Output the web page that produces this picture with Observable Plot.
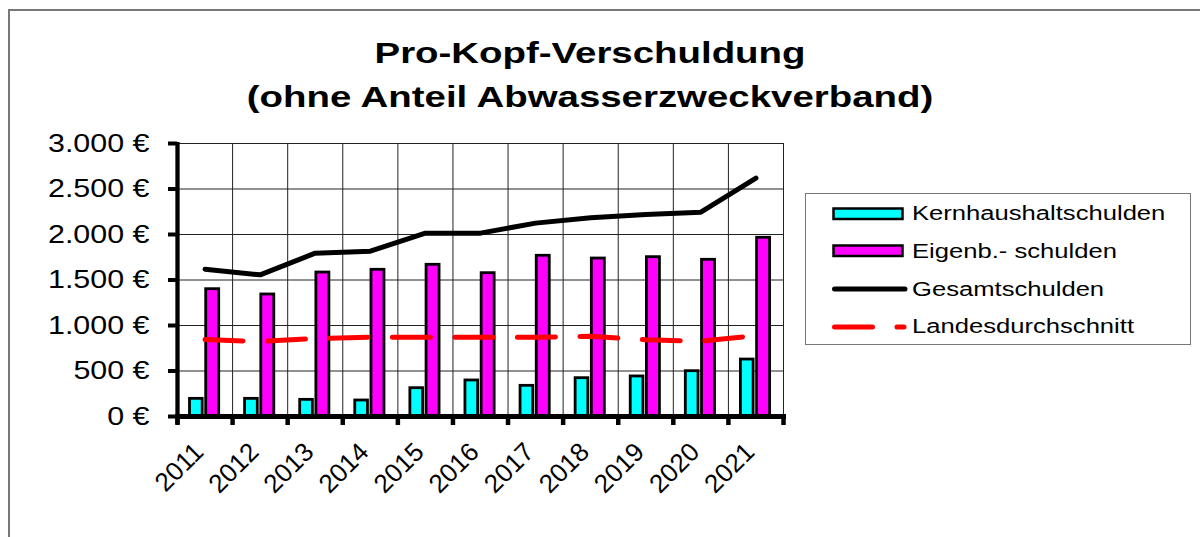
<!DOCTYPE html>
<html>
<head>
<meta charset="utf-8">
<script src="https://cdn.jsdelivr.net/npm/d3@7"></script>
<script src="https://cdn.jsdelivr.net/npm/@observablehq/plot@0.6"></script>
<style>
  html, body { margin: 0; padding: 0; background: #fff; overflow: hidden; }
  #wrap { position: relative; width: 1200px; height: 537px; overflow: hidden; font-family: "Liberation Sans", Arial, sans-serif; }
  #frame { position: absolute; left: 8px; top: 9px; width: 1300px; height: 700px; border: 2px solid #777; box-sizing: border-box; }
  .title { position: absolute; left: 0; width: 1180px; text-align: center; font-weight: bold; font-size: 30px; line-height: 30px; color: #000; transform: scaleX(1.28); transform-origin: 590px 0; white-space: nowrap; }
  #chart { position: absolute; left: 0; top: 125px; }
  #legend { position: absolute; left: 805px; top: 193px; width: 386px; height: 152px; border: 1.5px solid #777; box-sizing: border-box; background: #fff; }
  .lg-sw { position: absolute; left: 26px; }
  .lg-tx { position: absolute; left: 106px; font-size: 20px; line-height: 20px; white-space: nowrap; transform: scaleX(1.28); transform-origin: 0 0; color: #000; }
</style>
</head>
<body>
<div id="wrap">
  <div id="frame"></div>
  <div class="title" id="t1" style="top:38px"></div>
  <div class="title" id="t2" style="top:82px"></div>
  <div id="chart"></div>
  <div id="legend"></div>
</div>
<script>
// ---- data ----
const titleLines = ["Pro-Kopf-Verschuldung", "(ohne Anteil Abwasserzweckverband)"];
const years = ["2011","2012","2013","2014","2015","2016","2017","2018","2019","2020","2021"];
const kernhaushalt = [194, 194, 183, 176, 311, 396, 337, 421, 440, 498, 626];
const eigenbetriebe = [1399, 1341, 1582, 1612, 1667, 1575, 1766, 1736, 1751, 1722, 1964];
const gesamt = [1619, 1557, 1795, 1817, 2015, 2015, 2125, 2183, 2220, 2245, 2619];
const landesdurchschnitt = [845, 824, 857, 871, 871, 871, 871, 882, 843, 827, 890];
const yTicks = [0, 500, 1000, 1500, 2000, 2500, 3000];
const seriesNames = ["Kernhaushaltschulden", "Eigenb.- schulden", "Gesamtschulden", "Landesdurchschnitt"];
const seriesColors = ["#00FFFF", "#FF00FF", "#000000", "#FF0000"];

// ---- build ----
document.getElementById("t1").textContent = titleLines[0];
document.getElementById("t2").textContent = titleLines[1];

const rows = years.map((year, i) => ({
  i, year,
  kern: kernhaushalt[i], eigen: eigenbetriebe[i], gesamt: gesamt[i], landes: landesdurchschnitt[i]
}));
const bounds = d3.range(years.length + 1);

const W = 1200, H = 412, mL = 177, mR = 417, mT = 18, mB = 121;
const bw = (W - mL - mR) / years.length;

const de = d3.formatLocale({decimal: ",", thousands: ".", grouping: [3], currency: ["", " €"]});
const fmtEuro = de.format("$,.0f");
const FONT = "'Liberation Sans', Arial, sans-serif";

const plot = Plot.plot({
  width: W, height: H,
  marginLeft: mL, marginRight: mR, marginTop: mT, marginBottom: mB,
  style: {fontFamily: FONT, fontSize: "26px", background: "transparent", overflow: "visible", color: "#000"},
  x: {type: "linear", domain: [0, years.length], axis: null},
  y: {domain: [0, 3000], axis: null},
  marks: [
    Plot.ruleY(yTicks, {y: d => d, stroke: "#222", strokeWidth: 1}),
    Plot.ruleX(bounds, {x: d => d, stroke: "#222", strokeWidth: 1}),
    Plot.rectY(rows, {x1: d => d.i, x2: d => d.i + 1, y: "kern", fill: seriesColors[0], stroke: "#000", strokeWidth: 2.8,
      insetLeft: 12.5, insetRight: bw - 25.2}),
    Plot.rectY(rows, {x1: d => d.i, x2: d => d.i + 1, y: "eigen", fill: seriesColors[1], stroke: "#000", strokeWidth: 2.8,
      insetLeft: 28.7, insetRight: bw - 41.7}),
    Plot.line(rows, {x: d => d.i + 0.5, y: "gesamt", stroke: seriesColors[2], strokeWidth: 5, strokeLinejoin: "round", strokeLinecap: "round"}),
    Plot.line(rows, {x: d => d.i + 0.5, y: "landes", stroke: seriesColors[3], strokeWidth: 5, strokeLinecap: "round", strokeDasharray: "38,24.5"}),
    Plot.ruleX([0], {x: d => d, stroke: "#000", strokeWidth: 4.3, insetBottom: -8, insetTop: -1}),
    Plot.ruleY([0], {y: d => d, stroke: "#000", strokeWidth: 4.8, insetLeft: -2, insetRight: -3}),
    Plot.axisX(bounds, {anchor: "bottom", tickSize: 9, strokeWidth: 4.5, tickFormat: () => "", label: null}),
    Plot.axisY(yTicks, {anchor: "left", tickSize: 9, tickPadding: 19, strokeWidth: 4, tickFormat: fmtEuro, fontSize: 26, label: null}),
    Plot.text(rows, {x: d => d.i + 0.5, y: 0, text: "year", rotate: -45, textAnchor: "end", lineAnchor: "bottom",
      dy: 37, fontSize: 26})
  ]
});
document.getElementById("chart").appendChild(plot);

// widen the y tick labels slightly, as in the reference (glyph stretch, positions untouched)
requestAnimationFrame(() => {});
plot.querySelectorAll('g[aria-label="y-axis tick label"] text').forEach(t => {
  try {
    const len = t.getComputedTextLength();
    if (len > 0) {
      t.setAttribute("textLength", (len * 1.17).toFixed(1));
      t.setAttribute("lengthAdjust", "spacingAndGlyphs");
    }
  } catch (e) {}
});

// ---- legend ----
const legend = document.getElementById("legend");
const rowCenters = [19.5, 57, 95, 132.5];
seriesNames.forEach((name, k) => {
  const cy = rowCenters[k];
  const sw = document.createElementNS("http://www.w3.org/2000/svg", "svg");
  sw.setAttribute("width", 76); sw.setAttribute("height", 16);
  sw.setAttribute("class", "lg-sw");
  sw.style.top = (cy - 8) + "px";
  if (k < 2) {
    sw.innerHTML = `<rect x="1.5" y="2.5" width="69" height="10.5" fill="${seriesColors[k]}" stroke="#000" stroke-width="2.5"/>`;
  } else if (k === 2) {
    sw.innerHTML = `<line x1="2.5" x2="73" y1="8" y2="8" stroke="#000" stroke-width="5" stroke-linecap="round"/>`;
  } else {
    sw.innerHTML = `<line x1="2.5" x2="72" y1="8" y2="8" stroke="${seriesColors[3]}" stroke-width="5" stroke-linecap="round" stroke-dasharray="38,24.5"/>`;
  }
  legend.appendChild(sw);
  const tx = document.createElement("div");
  tx.className = "lg-tx";
  tx.textContent = name;
  tx.style.top = (cy - 10.5) + "px";
  legend.appendChild(tx);
});
</script>
</body>
</html>
